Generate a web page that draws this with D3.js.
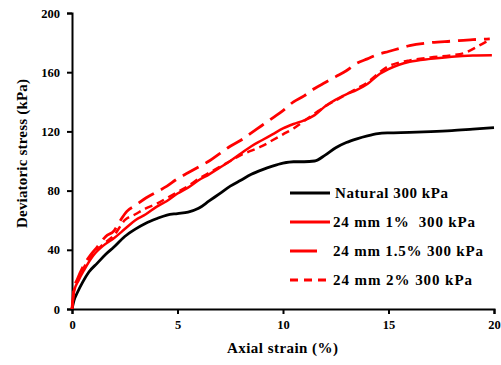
<!DOCTYPE html>
<html><head><meta charset="utf-8">
<script src="https://cdn.jsdelivr.net/npm/d3@7"></script>
<style>body{margin:0;background:#fff}svg{display:block}</style>
</head><body><svg id="c" width="501" height="365"></svg>
<script>
const xTicks=[0,5,10,15,20];
const yTicks=[0,40,80,120,160,200];
const seriesNames=["Natural 300 kPa","24 mm 1%  300 kPa","24 mm 1.5% 300 kPa","24 mm 2% 300 kPa"];
const naturalStrain=[0,0.1,0.25,0.5,0.8,1.2,1.6,2.0,2.5,3.0,3.5,4.0,4.5,5.0,5.5,6.0,6.5,7.0,7.5,8.0,8.5,9.0,9.5,10.0,10.5,11.0,11.5,12.0,12.5,13.0,13.5,14.0,14.5,15.0,16,17,18,19,20];
const naturalStress=[0,6,11,18,25,31,37,42,49,54,58,61,63.5,64.5,65.5,68,73,78,83,87,91,94,96.5,98.5,99.5,99.5,100,104,109,112.5,115,117,118.5,119,119.3,119.8,120.5,121.5,122.5];
const s1Strain=[0,0.1,0.3,0.6,1.0,1.5,2.0,2.5,3.0,3.5,4.0,4.5,5.0,5.5,6.0,6.5,7.0,7.5,8.0,8.5,9.0,9.5,10.0,10.5,11.0,11.5,12.0,12.5,13.0,13.5,14.0,14.5,15.0,15.5,16.0,17,18,19,19.9];
const s1Stress=[0,12,19,27,36,43,48,54,60,64,69,73,78,82,87,91,95.5,100,105,110,114,118,122,125,127.5,131,137,141.5,145,148,152,158,162,165,167,169,170.5,171.3,171.5];
const s15Strain=[0,0.1,0.25,0.5,0.8,1.2,1.6,2.0,2.3,2.6,3.0,3.5,4.0,4.5,5.0,5.5,6.0,6.5,7.0,7.5,8.0,8.5,9.0,9.5,10.0,10.5,11.0,11.5,12.0,12.5,13.0,13.5,14.0,14.5,15.0,15.5,16,17,18,19,19.8];
const s15Stress=[0,14,20,28,35,42,49,53,60,66,70,75,79,83,88,92,96,100,105,110,114,119,124,129,134,140,144,149,153,157,161,166,169,172,174,176,178,180,181,182,182.5];
const s2Strain=[0,0.1,0.3,0.6,1.0,1.5,2.0,2.5,3.0,3.5,4.0,4.5,5.0,5.5,6.0,6.5,7.0,7.5,8.0,8.5,9.0,9.5,10.0,10.5,11.0,11.5,12.0,12.5,13.0,13.5,14.0,14.5,15.0,15.5,16,17,18,18.6,19.3,19.8];
const s2Stress=[0,13,20,29,37,44,50,60,64,68,71,75,79,83,88,92,96,100,104,107,110,114,118,122,127,132,137,141,145,149,153,159,164,166.5,168,170,171.5,173,178,182];

const FONT="'Liberation Serif', 'Times New Roman', serif";
const svg=d3.select("#c");
const x=d3.scaleLinear().domain([0,20]).range([72,494]);
const y=d3.scaleLinear().domain([0,200]).range([309,13]);

const xa=svg.append("g").attr("transform","translate(0,309)").call(d3.axisBottom(x).tickValues(xTicks).tickSize(5).tickPadding(6.5));
const ya=svg.append("g").attr("transform","translate(72,0)").call(d3.axisLeft(y).tickValues(yTicks).tickSize(5).tickPadding(7));
[xa,ya].forEach(a=>{a.attr("font-family",null).attr("font-size",null);a.select(".domain").attr("stroke","#000").attr("stroke-width",2);a.selectAll(".tick line").attr("stroke","#000").attr("stroke-width",2);
 a.selectAll("text").style("font-family",FONT).style("font-weight","bold").style("font-size","12.5px").attr("fill","#000");});

function label(sel){return sel.style("font-family",FONT).style("font-weight","bold").style("font-size","15px").style("white-space","pre").attr("fill","#000");}
label(svg.append("text").attr("x",227).attr("y",353).attr("textLength",111).attr("lengthAdjust","spacing")).text("Axial strain (%)");
label(svg.append("text").attr("transform","translate(26.5,228) rotate(-90)").attr("textLength",149).attr("lengthAdjust","spacing")).text("Deviatoric stress (kPa)");

const series=[
 {sx:naturalStrain,sy:naturalStress,color:"#000",dash:null,w:2.8},
 {sx:s1Strain,sy:s1Stress,color:"#ff0000",dash:null,w:2.5},
 {sx:s15Strain,sy:s15Stress,color:"#ff0000",dash:"18,8",w:2.8},
 {sx:s2Strain,sy:s2Stress,color:"#ff0000",dash:"8,5",w:2.5}
];
const line=d3.line().x(d=>x(d[0])).y(d=>y(d[1])).curve(d3.curveMonotoneX);
series.forEach(s=>{
 svg.append("path").datum(s.sx.map((v,i)=>[v,s.sy[i]])).attr("d",line).attr("fill","none")
  .attr("stroke",s.color).attr("stroke-width",s.w).attr("stroke-dasharray",s.dash).attr("stroke-linejoin","round");
});

const lg=svg.append("g");
const ly=[193,222,251,280];
const lx2=[330,330,317,327];
const tx=[335,333,333,333];
const tw=[113,142,150,139];
series.forEach((s,i)=>{
 lg.append("line").attr("x1",290).attr("x2",lx2[i]).attr("y1",ly[i]).attr("y2",ly[i]).attr("stroke",s.color).attr("stroke-width",3).attr("stroke-dasharray",i===3?"8,6":null);
 label(lg.append("text").attr("x",tx[i]).attr("y",ly[i]+5).attr("textLength",tw[i]).attr("lengthAdjust","spacing")).text(seriesNames[i]);
});
</script></body></html>
